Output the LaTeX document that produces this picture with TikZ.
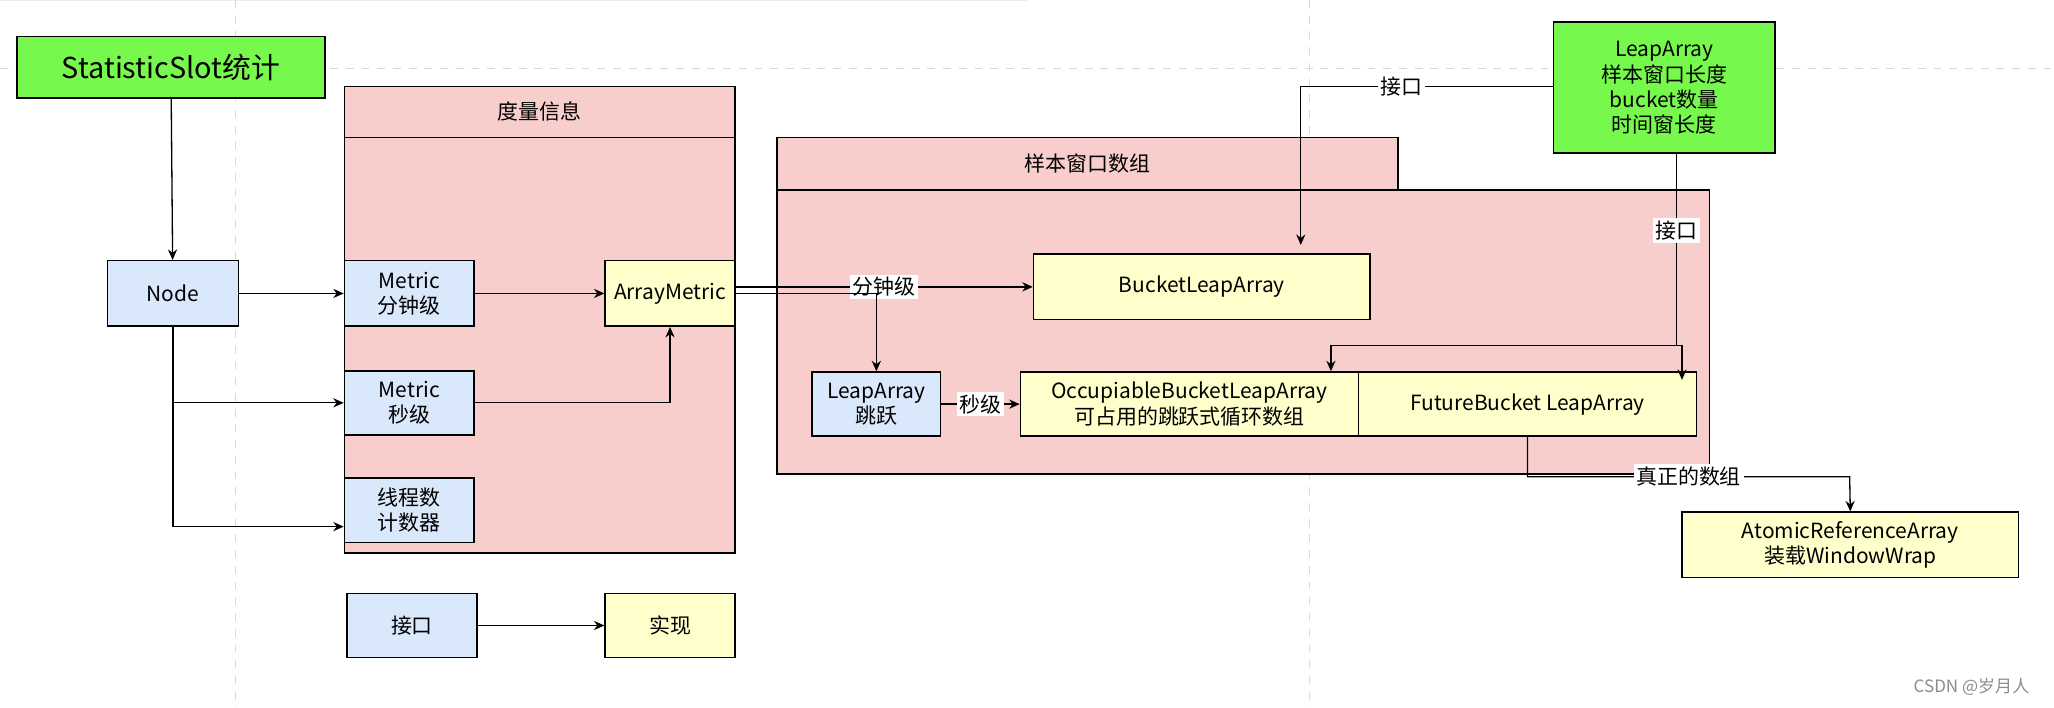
\documentclass[tikz,border=0pt]{standalone}
\usepackage{fontspec}
\setmainfont{Noto Sans CJK SC}
\usetikzlibrary{arrows.meta}
\definecolor{pinkf}{HTML}{F8CECC}
\definecolor{bluef}{HTML}{DAE8FC}
\definecolor{yelf}{HTML}{FFFFCC}
\definecolor{greenf}{HTML}{76F84C}
\begin{document}
\begin{tikzpicture}[x=0.5pt,y=-0.5pt,
  box/.style={draw=black,line width=0.6pt,inner sep=0pt,align=center,font=\fontsize{8}{9.6}\selectfont},
  blue/.style={box,fill=bluef},
  yel/.style={box,fill=yelf},
  pinkb/.style={draw=black,line width=0.6pt,fill=pinkf},
  arr/.style={-{Stealth[length=4pt,width=3.5pt]},line width=0.5pt},
  ln/.style={line width=0.5pt},
  lab/.style={fill=white,inner sep=1pt,font=\fontsize{8}{9.6}\selectfont}]
\useasboundingbox (0,0) rectangle (1568,540);
\fill[white] (0,0) rectangle (1568,540);
\draw[black!7,line width=0.3pt,step=5pt] (0,0) grid (784,-270);
\draw[black!15,line width=0.4pt,dashed] (0,52) -- (1568,52) (180,0) -- (180,540) (1000,0) -- (1000,540);
% containers
\draw[pinkb] (263,66) rectangle (561,105);
\node[font=\fontsize{8}{9.6}\selectfont] (h1) at (412,85) {度量信息};
\draw[pinkb] (263,105) rectangle (561,422);
\draw[pinkb] (593,105) rectangle (1067,145);
\node[font=\fontsize{8}{9.6}\selectfont] (h2) at (830,125) {样本窗口数组};
\draw[pinkb] (593,145) rectangle (1305,362);
% nodes
\node[box,fill=greenf,minimum width=117.5pt,minimum height=23.5pt,font=\fontsize{11}{13}\selectfont] (ss) at (130.5,51.5) {StatisticSlot统计};
\node[blue,minimum width=50pt,minimum height=25pt] (node) at (132,224) {Node};
\node[blue,minimum width=49.5pt,minimum height=25pt] (m1) at (312.5,224) {Metric\\分钟级};
\node[blue,minimum width=49.5pt,minimum height=24.5pt] (m2) at (312.5,307.5) {Metric\\秒级};
\node[blue,minimum width=49.5pt,minimum height=24.5pt] (m3) at (312.5,389.5) {线程数\\计数器};
\node[yel,minimum width=49.5pt,minimum height=25pt] (am) at (511.5,224) {ArrayMetric};
\node[yel,minimum width=128.5pt,minimum height=25pt] (bla) at (917.5,219) {BucketLeapArray};
\node[blue,minimum width=49pt,minimum height=24.5pt] (la) at (669,308.5) {LeapArray\\跳跃};
\node[yel,minimum width=129pt,minimum height=24.5pt] (oc) at (908,308.5) {OccupiableBucketLeapArray\\可占用的跳跃式循环数组};
\node[yel,minimum width=129pt,minimum height=24.5pt] (fb) at (1166,308.5) {FutureBucket LeapArray};
\node[box,fill=greenf,minimum width=84.5pt,minimum height=50pt] (gl) at (1270.5,67) {LeapArray\\样本窗口长度\\bucket数量\\时间窗长度};
\node[yel,minimum width=128.5pt,minimum height=25pt] (ar) at (1412.5,416) {AtomicReferenceArray\\装载WindowWrap};
\node[blue,minimum width=49.5pt,minimum height=24.5pt] (k1) at (314.5,477.5) {接口};
\node[yel,minimum width=49.5pt,minimum height=24.5pt] (k2) at (511.5,477.5) {实现};
\node[text=black!45,font=\fontsize{6.5}{8}\selectfont] (wm) at (1505,524) {CSDN @岁月人};
% connectors
\draw[arr] (ss) -- (node);
\draw[arr] (node) -- (m1);
\draw[arr] (node.south) |- (m2.west);
\draw[arr] (node.south) |- (m3.west |- 0,402);
\draw[arr] (m1) -- (am);
\draw[arr] (m2.east) -| (am.south);
\draw[arr] (am.east |- 0,219) -- node[lab,pos=0.5] {分钟级} (bla.west);
\draw[arr] (am.east |- 0,224) -| (la.north);
\draw[arr] (la) -- node[lab] {秒级} (oc);
\draw[arr] (gl.west |- 0,66) -| node[lab,pos=0.3] {接口} (993,187);
\draw[ln] (gl.south -| 1280,0) -- node[lab,pos=0.4] {接口} (1280,264);
\draw[arr] (1280,264) -| (oc.north -| 1016,0);
\draw[arr] (1280,264) -- (1284,264) -- (1284,290);
\draw[arr] (fb.south) |- node[lab,pos=0.75] {真正的数组} (1412,364) -- (ar.north);
\draw[arr] (k1) -- (k2);
\end{tikzpicture}
\end{document}
